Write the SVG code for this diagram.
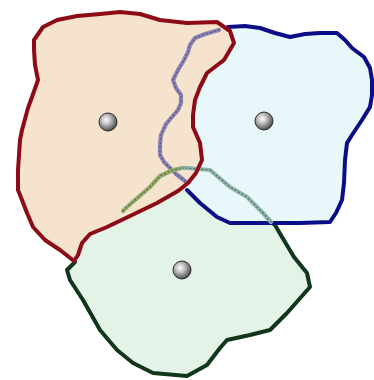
<svg xmlns="http://www.w3.org/2000/svg" width="374" height="380" viewBox="0 0 374 380">
<defs>
<radialGradient id="ball" cx="0.4" cy="0.38" r="0.65">
<stop offset="0" stop-color="#ffffff"/>
<stop offset="0.35" stop-color="#c8c8c8"/>
<stop offset="0.8" stop-color="#6e6e6e"/>
<stop offset="1" stop-color="#3a3a3a"/>
</radialGradient>
<style>
.outline{fill:none;stroke-width:4;stroke-linejoin:round;stroke-linecap:round}
.inner{fill:none;stroke-width:4.2;stroke-linejoin:round;stroke-linecap:round}
.speck{fill:none;stroke-width:1.2;stroke-dasharray:1 3;stroke-linecap:round;opacity:0.8}
.ball{fill:url(#ball);stroke:#2e2e2e;stroke-width:1}
</style>
</defs>
<rect width="374" height="380" fill="#ffffff"/>
<g id="green-region">
<path d="M75,262 L67,270 L70,280 L83,300 L100,330 L117,350 L133,363 L153,373 L187,376 L207,365 L220,348 L227,340 L250,335 L270,330 L287,313 L310,287 L307,273 L294,257 L282,237 L275,225 L271,222 L263,213 L247,197 L230,187 L210,170 L187,168 L173,170 L160,175 L150,187 L127,207 L123,211 L107,227 L90,234 L82,243 L78,255 Z" fill="#e4f3e7"/>
<path class="outline" stroke="#10371b" d="M75,262 L67,270 L70,280 L83,300 L100,330 L117,350 L133,363 L153,373 L187,376 L207,365 L220,348 L227,340 L250,335 L270,330 L287,313 L310,287 L307,273 L294,257 L282,237 L275,225 L271,222"/>
<circle class="ball" cx="182" cy="270" r="9"/>
</g>
<g id="blue-region">
<path d="M228,27 L245,26 L260,28 L275,33 L290,37 L305,34 L320,33 L337,33 L345,40 L352,48 L364,57 L370,68 L372,80 L372,95 L370,107 L362,120 L352,135 L347,143 L345,160 L344,183 L342,200 L336,213 L330,222 L300,223 L270,223 L230,223 L217,217 L200,203 L187,190 L176,174 L164,162 L160,150 L161,135 L170,120 L180,105 L176,88 L184,60 L192,40 L205,34 Z" fill="#e8f7f9"/>
<path class="outline" stroke="#0b0e86" d="M228,27 L245,26 L260,28 L275,33 L290,37 L305,34 L320,33 L337,33 L345,40 L352,48 L364,57 L370,68 L372,80 L372,95 L370,107 L362,120 L352,135 L347,143 L345,160 L344,183 L342,200 L336,213 L330,222 L300,223 L270,223 L230,223 L217,217 L200,203 L187,190"/>
<circle class="ball" cx="264" cy="121" r="9"/>
</g>
<g id="red-region">
<path d="M34,40 L43,27 L57,20 L77,16 L100,14 L120,12 L140,14 L160,20 L187,23 L217,22 L230,31 L234,43 L224,60 L207,73 L200,87 L195,100 L193,115 L193,127 L200,143 L202,160 L196,173 L188,183 L178,191 L157,203 L130,216 L107,227 L90,234 L82,243 L78,255 L74,261 L60,250 L45,240 L33,227 L27,213 L22,200 L18,190 L18,170 L20,140 L22,130 L28,108 L32,97 L38,80 L35,65 L34,50 Z" fill="#f6e3cd"/>
</g>
<g id="connectors">
<path class="inner" stroke="#8a84b4" d="M219,30 L205,34 L195,38 L190,45 L188,52 L184,60 L178,70 L173,80 L176,88 L181,95 L181,103 L178,110 L172,117 L166,124 L161,135 L160,145 L160,155 L164,162 L170,168 L176,174 L185,181"/>
<path class="speck" stroke="#4a4470" d="M219,30 L205,34 L195,38 L190,45 L188,52 L184,60 L178,70 L173,80 L176,88 L181,95 L181,103 L178,110 L172,117 L166,124 L161,135 L160,145 L160,155 L164,162 L170,168 L176,174 L185,181"/>
<path class="inner" stroke="#92ab6a" d="M123,211 L127,207 L150,187 L160,176 L173,170 L182,168"/>
<path class="speck" stroke="#4c5a30" d="M123,211 L127,207 L150,187 L160,176 L173,170 L182,168"/>
<path class="inner" stroke="#8fb4aa" d="M182,168 L187,168 L210,170 L230,187 L247,197 L263,213 L271,222"/>
<path class="speck" stroke="#3c5a52" d="M182,168 L187,168 L210,170 L230,187 L247,197 L263,213 L271,222"/>
</g>
<g id="red-outline">
<path class="outline" stroke="#8d0b17" d="M34,40 L43,27 L57,20 L77,16 L100,14 L120,12 L140,14 L160,20 L187,23 L217,22 L230,31 L234,43 L224,60 L207,73 L200,87 L195,100 L193,115 L193,127 L200,143 L202,160 L196,173 L188,183 L178,191 L157,203 L130,216 L107,227 L90,234 L82,243 L78,255 L74,261 L60,250 L45,240 L33,227 L27,213 L22,200 L18,190 L18,170 L20,140 L22,130 L28,108 L32,97 L38,80 L35,65 L34,50 Z"/>
<circle class="ball" cx="108" cy="122" r="9"/>
</g>
</svg>
